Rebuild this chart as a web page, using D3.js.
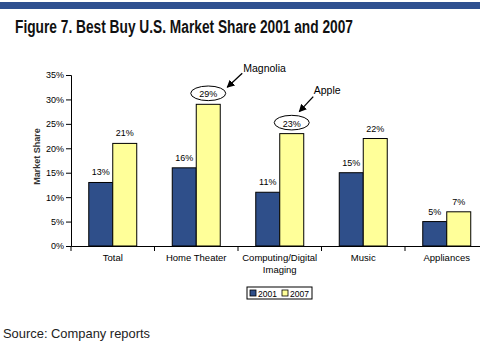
<!DOCTYPE html>
<html>
<head>
<meta charset="utf-8">
<script src="https://cdn.jsdelivr.net/npm/d3@7"></script>
<style>
  html, body { margin: 0; padding: 0; background: #fff; }
  svg { display: block; }
</style>
</head>
<body>
<svg id="chart" width="480" height="352"></svg>
<script>
const categories = [["Total"], ["Home Theater"], ["Computing/Digital", "Imaging"], ["Music"], ["Appliances"]];
const years = ["2001", "2007"];
const share2001 = [13, 16, 11, 15, 5];
const share2007 = [21, 29, 23, 22, 7];
const yTicks = [0, 5, 10, 15, 20, 25, 30, 35];
const calloutCats = [1, 2];
const calloutText = ["Magnolia", "Apple"];

const svg = d3.select("#chart");
const colors = { "2001": "#2f4f8a", "2007": "#ffff99" };
const font = "'Liberation Sans', Arial, sans-serif";
// where each callout's arrow and text sit relative to its circled label
const calloutPos = [
  { ax: 34, ay: -20, bx: 19, by: -6, tx: 35, ty: -21 },
  { ax: 21.5, ay: -26, bx: 7.5, by: -11, tx: 22, ty: -28.5 }
];

// top banner
svg.append("rect").attr("x", 0).attr("y", 2).attr("width", 480).attr("height", 7).attr("fill", "#2f5090");

// condensed look: squeeze regular fonts to the reference width
svg.append("text")
  .attr("x", 15).attr("y", 33)
  .attr("font-family", font).attr("font-weight", "bold").attr("font-size", 18)
  .attr("fill", "#111")
  .attr("textLength", 338).attr("lengthAdjust", "spacingAndGlyphs")
  .text("Figure 7. Best Buy U.S. Market Share 2001 and 2007");

svg.append("text")
  .attr("x", 3).attr("y", 338)
  .attr("font-family", font).attr("font-size", 13.5)
  .attr("fill", "#222")
  .attr("textLength", 147).attr("lengthAdjust", "spacingAndGlyphs")
  .text("Source: Company reports");

const plotL = 71, plotR = 488.5, plotT = 75, plotB = 246;

const x0 = d3.scaleBand().domain(d3.range(categories.length)).range([plotL, plotR]);
const x1 = d3.scaleBand().domain(years).range([0, x0.bandwidth()]).paddingOuter(0.74).paddingInner(0);
const y = d3.scaleLinear().domain([0, 35]).range([plotB, plotT]);

const g = svg.append("g");

// y axis
const yAxis = d3.axisLeft(y).tickValues(yTicks).tickFormat(d => d + "%").tickSize(5);
g.append("g").attr("transform", `translate(${plotL},0)`).call(yAxis)
  .call(a => a.select(".domain").attr("stroke", "#000"))
  .call(a => a.selectAll("line").attr("stroke", "#000"))
  .call(a => a.selectAll("text").attr("font-family", font).attr("font-size", 9).attr("fill", "#000").attr("x", -7));

g.append("text")
  .attr("transform", `translate(40,${(plotT + plotB) / 2 - 4}) rotate(-90)`)
  .attr("text-anchor", "middle")
  .attr("font-family", font).attr("font-size", 9).attr("font-weight", "bold").attr("fill", "#333")
  .text("Market Share");

// x axis
const xAxis = d3.axisBottom(x0).tickSize(0).tickFormat("");
g.append("g").attr("transform", `translate(0,${plotB})`).call(xAxis)
  .call(a => a.select(".domain").attr("stroke", "#000"));

g.selectAll(".xtick").data(d3.range(categories.length + 1)).join("line")
  .attr("class", "xtick")
  .attr("x1", i => plotL + i * x0.step()).attr("x2", i => plotL + i * x0.step())
  .attr("y1", plotB).attr("y2", plotB + 5)
  .attr("stroke", "#000");

categories.forEach((lines, i) => {
  const t = g.append("text")
    .attr("x", x0(i) + x0.bandwidth() / 2).attr("y", plotB + 15)
    .attr("text-anchor", "middle")
    .attr("font-family", font).attr("font-size", 9.5).attr("fill", "#000");
  lines.forEach((l, k) => t.append("tspan").attr("x", x0(i) + x0.bandwidth() / 2).attr("dy", k ? 11.5 : 0).text(l));
});

// bars
const rows = categories.map((c, i) => ({ i, vals: [share2001[i], share2007[i]] }));
const groups = g.selectAll(".grp").data(rows).join("g")
  .attr("class", "grp")
  .attr("transform", d => `translate(${x0(d.i)},0)`);

groups.selectAll("rect").data(d => d.vals.map((v, k) => ({ year: years[k], v }))).join("rect")
  .attr("x", d => x1(d.year))
  .attr("y", d => y(d.v))
  .attr("width", x1.bandwidth())
  .attr("height", d => plotB - y(d.v))
  .attr("fill", d => colors[d.year])
  .attr("stroke", "#000").attr("stroke-width", 1);

groups.selectAll(".lbl").data(d => d.vals.map((v, k) => ({ year: years[k], v }))).join("text")
  .attr("class", "lbl")
  .attr("x", d => x1(d.year) + x1.bandwidth() / 2)
  .attr("y", d => y(d.v) - 7)
  .attr("text-anchor", "middle")
  .attr("font-family", font).attr("font-size", 9).attr("fill", "#000")
  .text(d => d.v + "%");

// callouts around 2007 labels
svg.append("defs").append("marker")
  .attr("id", "arr").attr("viewBox", "0 0 10 10").attr("refX", 9).attr("refY", 5)
  .attr("markerWidth", 6).attr("markerHeight", 6).attr("orient", "auto")
  .append("path").attr("d", "M0,0L10,5L0,10z").attr("fill", "#000");

calloutCats.forEach((cat, j) => {
  const p = calloutPos[j];
  const cx = x0(cat) + x1("2007") + x1.bandwidth() / 2;
  const cy = y(share2007[cat]) - 11;
  g.append("ellipse").attr("cx", cx).attr("cy", cy).attr("rx", 17.5).attr("ry", 7.3)
    .attr("fill", "none").attr("stroke", "#000").attr("stroke-width", 1);
  g.append("line")
    .attr("x1", cx + p.ax).attr("y1", cy + p.ay)
    .attr("x2", cx + p.bx).attr("y2", cy + p.by)
    .attr("stroke", "#000").attr("stroke-width", 1.3).attr("marker-end", "url(#arr)");
  g.append("text").attr("x", cx + p.tx).attr("y", cy + p.ty)
    .attr("font-family", font).attr("font-size", 10.5).attr("fill", "#000")
    .text(calloutText[j]);
});

// legend
const lg = svg.append("g").attr("transform", "translate(247,287)");
lg.append("rect").attr("width", 65).attr("height", 12).attr("fill", "#fff").attr("stroke", "#000");
years.forEach((yr, k) => {
  const ox = 3 + k * 32;
  lg.append("rect").attr("x", ox).attr("y", 3).attr("width", 6).attr("height", 6)
    .attr("fill", colors[yr]).attr("stroke", "#000").attr("stroke-width", 0.8);
  lg.append("text").attr("x", ox + 8).attr("y", 9.5)
    .attr("font-family", font).attr("font-size", 8.5).attr("fill", "#000").text(yr);
});
</script>
</body>
</html>
